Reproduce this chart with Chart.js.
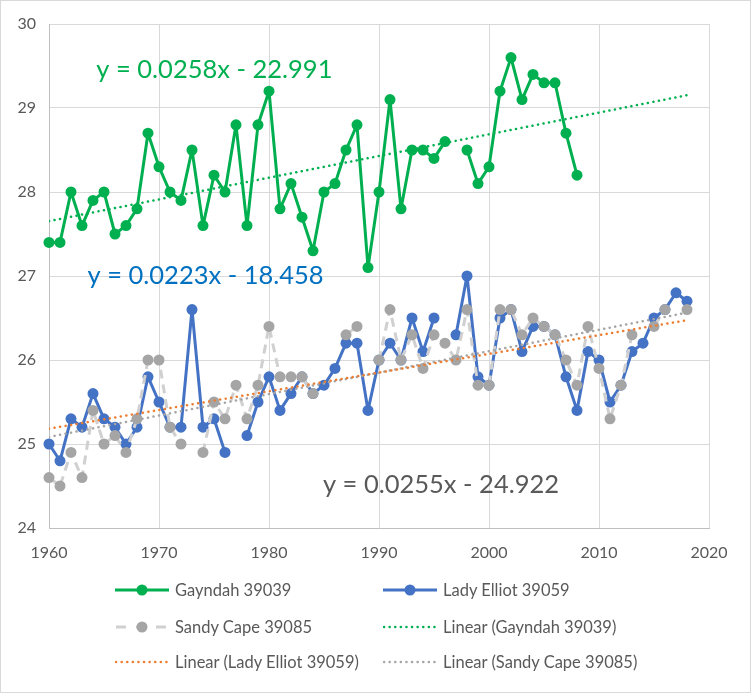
<!DOCTYPE html>
<html>
<head>
<meta charset="utf-8">
<script src="https://cdn.jsdelivr.net/npm/chart.js@4"></script>
<style>
  body { margin: 0; background: #fff; }
  #wrap { position: relative; width: 751px; height: 693px; font-family: Lato, "Liberation Sans", sans-serif; }
  #frame { position: absolute; left: 0; top: 0; width: 749px; height: 691px; border: 1px solid #d9d9d9; pointer-events: none; }
  .item { position: absolute; display: flex; align-items: center; font-size: 16.5px; color: #595959; white-space: nowrap; }
  .item svg { margin-right: 6px; }
</style>
</head>
<body>
<div id="wrap">
  <canvas id="myChart" width="751" height="693"></canvas>
  <div id="legend"></div>
  <div id="frame"></div>
</div>
<script>
const ctx = document.getElementById("myChart");

const years = [1960, 1961, 1962, 1963, 1964, 1965, 1966, 1967, 1968, 1969,
  1970, 1971, 1972, 1973, 1974, 1975, 1976, 1977, 1978, 1979,
  1980, 1981, 1982, 1983, 1984, 1985, 1986, 1987, 1988, 1989,
  1990, 1991, 1992, 1993, 1994, 1995, 1996, 1997, 1998, 1999,
  2000, 2001, 2002, 2003, 2004, 2005, 2006, 2007, 2008, 2009,
  2010, 2011, 2012, 2013, 2014, 2015, 2016, 2017, 2018];

const gayndah = [27.4, 27.4, 28.0, 27.6, 27.9, 28.0, 27.5, 27.6, 27.8, 28.7,
  28.3, 28.0, 27.9, 28.5, 27.6, 28.2, 28.0, 28.8, 27.6, 28.8,
  29.2, 27.8, 28.1, 27.7, 27.3, 28.0, 28.1, 28.5, 28.8, 27.1,
  28.0, 29.1, 27.8, 28.5, 28.5, 28.4, 28.6, null, 28.5, 28.1,
  28.3, 29.2, 29.6, 29.1, 29.4, 29.3, 29.3, 28.7, 28.2, null,
  null, null, null, null, null, null, null, null, null];

const ladyElliot = [25.0, 24.8, 25.3, 25.2, 25.6, 25.3, 25.2, 25.0, 25.2, 25.8,
  25.5, 25.2, 25.2, 26.6, 25.2, 25.3, 24.9, null, 25.1, 25.5,
  25.8, 25.4, 25.6, 25.8, 25.6, 25.7, 25.9, 26.2, 26.2, 25.4,
  26.0, 26.2, 26.0, 26.5, 26.1, 26.5, null, 26.3, 27.0, 25.8,
  25.7, 26.5, 26.6, 26.1, 26.4, 26.4, 26.3, 25.8, 25.4, 26.1,
  26.0, 25.5, 25.7, 26.1, 26.2, 26.5, 26.6, 26.8, 26.7];

const sandyCape = [24.6, 24.5, 24.9, 24.6, 25.4, 25.0, 25.1, 24.9, 25.3, 26.0,
  26.0, 25.2, 25.0, null, 24.9, 25.5, 25.3, 25.7, 25.3, 25.7,
  26.4, 25.8, 25.8, 25.8, 25.6, null, null, 26.3, 26.4, null,
  26.0, 26.6, 26.0, 26.3, 25.9, 26.3, 26.2, 26.0, 26.6, 25.7,
  25.7, 26.6, 26.6, 26.3, 26.5, 26.4, 26.3, 26.0, 25.7, 26.4,
  25.9, 25.3, 25.7, 26.3, null, 26.4, 26.6, null, 26.6];

const seriesNames = ["Gayndah 39039", "Lady Elliot 39059", "Sandy Cape 39085"];
const equations = ["y = 0.0258x - 22.991", "y = 0.0223x - 18.458", "y = 0.0255x - 24.922"];

const green = "#00b050";
const blue = "#4472c4";
const grey = "#a5a5a5";
const orange = "#ed7d31";

function points(vals) {
  return years.map((yr, i) => ({ x: yr, y: vals[i] }));
}

// least squares fit, drawn across the whole year range
function trend(vals) {
  let n = 0, sx = 0, sy = 0, sxx = 0, sxy = 0;
  for (let i = 0; i < years.length; i++) {
    if (vals[i] === null) continue;
    n++; sx += years[i]; sy += vals[i];
    sxx += years[i] * years[i]; sxy += years[i] * vals[i];
  }
  const b = (n * sxy - sx * sy) / (n * sxx - sx * sx);
  const a = (sy - b * sx) / n;
  const x0 = years[0], x1 = years[years.length - 1];
  return [{ x: x0, y: a + b * x0 }, { x: x1, y: a + b * x1 }];
}

const seriesLine = (color) => ({
  borderColor: color, backgroundColor: color, borderWidth: 3,
  borderJoinStyle: "round",
  pointRadius: 5.5, pointBorderWidth: 0, pointBackgroundColor: color,
  spanGaps: false, tension: 0, clip: false,
});
const trendLine = (color) => ({
  borderColor: color, borderWidth: 2.5, borderDash: [0.1, 5.5],
  borderCapStyle: "round", pointRadius: 0, order: 0,
});

// equation text, placed in data units
const eqPlaces = [
  { x: 1964.3, y: 29.45, color: "#00b050" },
  { x: 1963.5, y: 27.0, color: "#0070c0" },
  { x: 1984.9, y: 24.52, color: "#595959" },
];
const eqPlugin = {
  id: "eq",
  afterDatasetsDraw(chart) {
    const c = chart.ctx, xs = chart.scales.x, ys = chart.scales.y;
    c.save();
    c.font = "25.5px Lato";
    c.textBaseline = "middle";
    eqPlaces.forEach((p, i) => {
      c.fillStyle = p.color;
      c.fillText(equations[i], xs.getPixelForValue(p.x), ys.getPixelForValue(p.y));
    });
    c.restore();
  },
};

new Chart(ctx, {
  type: "line",
  data: {
    datasets: [
      { label: "Linear (Gayndah 39039)", data: trend(gayndah), ...trendLine(green) },
      { label: "Linear (Lady Elliot 39059)", data: trend(ladyElliot), ...trendLine(orange) },
      { label: "Linear (Sandy Cape 39085)", data: trend(sandyCape), ...trendLine(grey) },
      { label: seriesNames[2], data: points(sandyCape), ...seriesLine(grey), borderColor: "#d0d0d0", borderDash: [9, 6], order: 1 },
      { label: seriesNames[1], data: points(ladyElliot), ...seriesLine(blue), order: 2 },
      { label: seriesNames[0], data: points(gayndah), ...seriesLine(green), order: 3 },
    ],
  },
  options: {
    responsive: false,
    animation: false,
    devicePixelRatio: 1,
    layout: { padding: { left: 0, right: 42, top: 24, bottom: 125 } },
    plugins: { legend: { display: false }, tooltip: { enabled: false } },
    scales: {
      x: {
        type: "linear", min: 1960, max: 2020,
        ticks: { stepSize: 10, color: "#595959", font: { family: "Lato", size: 16 }, padding: 15,
          callback: (v) => String(v) },
        grid: { color: "#d9d9d9", drawTicks: false },
        border: { color: "#bfbfbf" },
        afterFit(s) { s.height = 40; },
      },
      y: {
        min: 24, max: 30,
        ticks: { stepSize: 1, color: "#595959", font: { family: "Lato", size: 16 }, padding: 13,
          callback: (v) => String(v) },
        grid: { color: "#d9d9d9", drawTicks: false },
        border: { color: "#bfbfbf" },
        afterFit(s) { s.width = 49; },
      },
    },
  },
  plugins: [eqPlugin],
});

// two-column legend like the original
const legendItems = [
  { text: seriesNames[0], color: green, kind: "marker" },
  { text: seriesNames[1], color: blue, kind: "marker" },
  { text: seriesNames[2], color: grey, kind: "dash" },
  { text: "Linear (Gayndah 39039)", color: green, kind: "dot" },
  { text: "Linear (Lady Elliot 39059)", color: orange, kind: "dot" },
  { text: "Linear (Sandy Cape 39085)", color: grey, kind: "dot" },
];
const legend = document.getElementById("legend");
legendItems.forEach((it, i) => {
  let svg = '<svg width="54" height="14">';
  if (it.kind === "marker") {
    svg += `<line x1="0" y1="7" x2="54" y2="7" stroke="${it.color}" stroke-width="3"/><circle cx="27" cy="7" r="5.5" fill="${it.color}"/>`;
  } else if (it.kind === "dash") {
    svg += `<line x1="0" y1="7" x2="54" y2="7" stroke="#d0d0d0" stroke-width="3" stroke-dasharray="10 10" stroke-dashoffset="-1"/><circle cx="27" cy="7" r="5.5" fill="${it.color}"/>`;
  } else {
    svg += `<line x1="1" y1="7" x2="53" y2="7" stroke="${it.color}" stroke-width="2.5" stroke-linecap="round" stroke-dasharray="0.1 5.5"/>`;
  }
  svg += "</svg>";
  const d = document.createElement("div");
  d.className = "item";
  d.style.left = (i % 2 === 0 ? 115 : 383) + "px";
  d.style.top = [580, 617, 652][Math.floor(i / 2)] + "px";
  d.innerHTML = svg + "<span>" + it.text + "</span>";
  legend.appendChild(d);
});
</script>
</body>
</html>
